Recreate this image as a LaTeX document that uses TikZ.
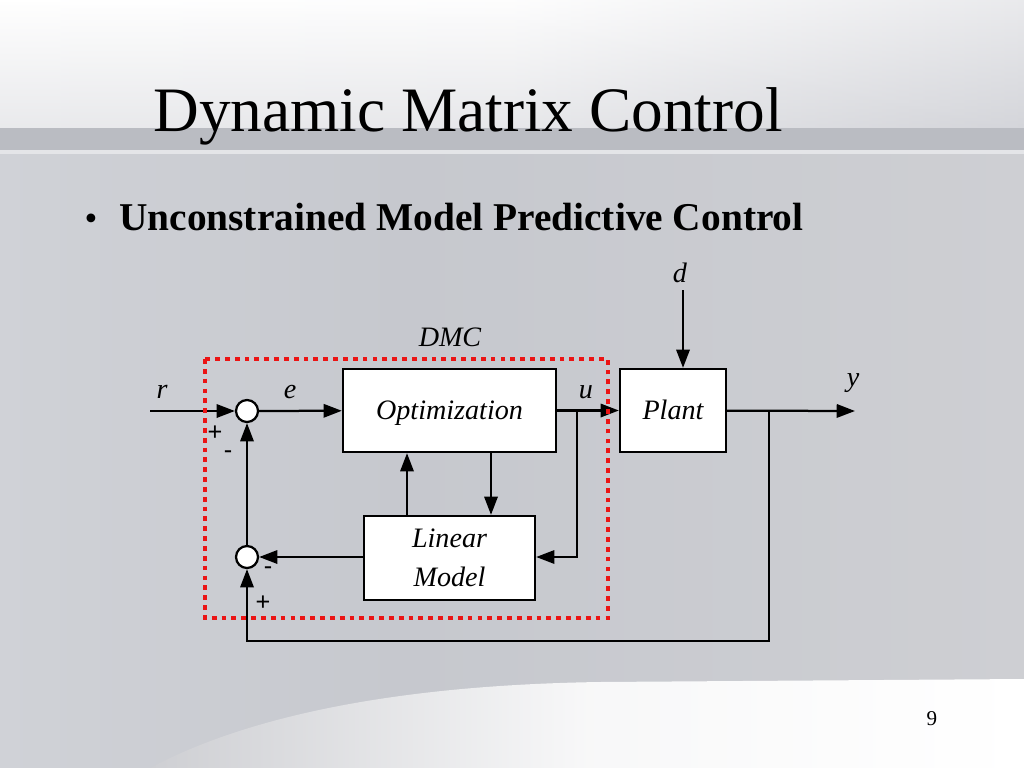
\documentclass[tikz,border=0pt]{standalone}
\usepackage{fontspec}
\setmainfont{Liberation Serif}
\newfontfamily\signfont{Liberation Sans}
\usetikzlibrary{arrows.meta}
\definecolor{bgbody}{RGB}{198,200,206}
\definecolor{bgtop}{RGB}{212,213,218}
\definecolor{bgband}{RGB}{186,188,194}
\definecolor{bgline}{RGB}{228,229,232}
\definecolor{bgleft}{RGB}{208,210,215}
\definecolor{bgcurve}{RGB}{206,207,211}
\definecolor{dmcred}{RGB}{235,20,20}
\begin{document}
\begin{tikzpicture}[x=0.025cm,y=-0.025cm,
  blk/.style={draw=black, fill=white, line width=1.6pt, inner sep=0pt, font=\fontsize{20}{27.5}\selectfont\itshape, align=center},
  one/.style={text height=13.5pt, text depth=0pt},
  sumj/.style={circle, draw=black, fill=white, line width=1.6pt, minimum size=0.55cm, inner sep=0pt},
  sig/.style={draw=black, line width=1.6pt, -{Triangle[length=13pt,width=9.5pt]}},
  dmcbox/.style={draw=dmcred, line width=3.4pt, dash pattern=on 3.4pt off 3.6pt},
  lbl/.style={font=\fontsize{20}{24}\selectfont\itshape, inner sep=0pt},
  sgn/.style={font=\signfont\fontsize{18}{20}\selectfont, inner sep=0pt},
]
\useasboundingbox (0,0) rectangle (1024,768);
% background
\fill[bgbody] (0,0) rectangle (1024,768);
\shade[left color=white, right color=bgtop, middle color=white!90!bgtop] (0,0) rectangle (1024,128);
\shade[top color=white, bottom color=bgtop, opacity=0.5] (0,0) rectangle (1024,128);
\fill[bgband] (0,128) rectangle (1024,150);
\fill[bgline] (0,150) rectangle (1024,155);
\shade[left color=bgleft, right color=bgbody] (0,155) rectangle (400,768);
\shade[left color=bgbody, right color=bgcurve] (400,155) rectangle (1024,768);
\shade[left color=bgcurve, right color=white, middle color=white!85!bgcurve]
  (150,768) .. controls (250,715) and (400,685) .. (600,682) -- (1024,679) -- (1024,768) -- cycle;
% title
\node[anchor=base, inner sep=0pt, font=\fontsize{45}{50}\selectfont] (title) at (468,132) {Dynamic Matrix Control};
\node[anchor=base, inner sep=0pt, font=\fontsize{26}{30}\selectfont] (bul) at (91,230) {•};
\node[anchor=base west, inner sep=0pt, font=\fontsize{28}{32}\selectfont\bfseries] (sub) at (119,230) {Unconstrained Model Predictive Control};
% blocks
\node[blk, one, minimum width=5.325cm, minimum height=2.075cm] (opt) at (449.5,410.5) {Optimization};
\node[blk, one, minimum width=2.65cm, minimum height=2.075cm] (plant) at (673,410.5) {Plant};
\node[blk, minimum width=4.275cm, minimum height=2.1cm] (lin) at (449.5,558) {Linear\\Model};
\node[sumj] (s1) at (247,411) {};
\node[sumj] (s2) at (247,557) {};
% helper coordinates
\coordinate (rin) at (150,411);
\coordinate (yout) at (855,411);
\coordinate (din) at (683,290);
\coordinate (ubr) at (577,411);
\coordinate (ybr) at (769,411);
\coordinate (fbl) at (247,641);
\coordinate (c1) at (491,0);
\coordinate (c2) at (407,0);
% connectors
\draw[sig] (rin) -- (s1);
\draw[sig] (s1) -- (opt);
\draw[sig] (opt) -- (plant);
\draw[sig] (ubr) |- (lin.east |- s2);
\draw[sig] (opt.south -| c1) -- (lin.north -| c1);
\draw[sig] (lin.north -| c2) -- (opt.south -| c2);
\draw[sig] (lin.west |- s2) -- (s2);
\draw[sig] (s2) -- (s1);
\draw[sig] (plant) -- (yout);
\draw[sig] (din) -- (plant.north -| din);
\draw[sig] (ybr) |- (fbl) -- (s2);
% DMC boundary
\draw[dmcbox] (205,359) rectangle (608,618);
% labels
\node[lbl] (lr) at (162,392) {r};
\node[lbl] (le) at (290,392) {e};
\node[lbl] (lu) at (586,392) {u};
\node[lbl] (ly) at (853,383) {y};
\node[lbl] (ld) at (680,273) {d};
\node[lbl] (ldmc) at (450,337) {DMC};
\node[sgn] (p1) at (215,433) {+};
\node[sgn] (m1) at (228,455) {-};
\node[sgn] (m2) at (268,571) {-};
\node[sgn] (p2) at (263,603) {+};
% page number
\node[anchor=base, inner sep=0pt, font=\fontsize{15}{18}\selectfont] (pg) at (932,725) {9};
\end{tikzpicture}
\end{document}
